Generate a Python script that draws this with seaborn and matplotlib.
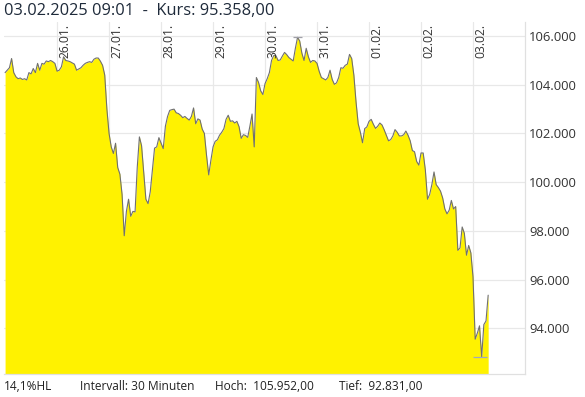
import numpy as np
import pandas as pd
import matplotlib
matplotlib.use("Agg")
import matplotlib.pyplot as plt
import matplotlib.transforms as mtransforms
import seaborn as sns

# ---- data (hourly closes, EUR) ----
start_time = "2025-01-25 00:00"
price = [
    104.5, 104.6, 104.7, 105.08, 104.5, 104.33, 104.25, 104.28, 104.22, 104.25,
    104.2, 104.5, 104.45, 104.67, 104.5, 104.88, 104.6, 104.88, 104.85, 104.98,
    104.95, 105.0, 104.95, 104.88, 104.56, 104.6, 104.74, 105.15, 105.0, 104.98,
    104.95, 104.9, 104.85, 104.6, 104.65, 104.7, 104.8, 104.88, 104.92, 104.95,
    104.92, 105.05, 105.1, 105.1, 104.97, 104.8, 104.4, 103.0, 102.0, 101.45,
    101.18, 101.6, 100.6, 100.33, 99.5, 97.8, 98.8, 99.3, 98.6, 98.8,
    98.78, 100.6, 101.86, 101.5, 100.4, 99.3, 99.12, 99.6, 100.5, 101.4,
    101.45, 101.83, 101.6, 101.38, 102.3, 102.7, 102.95, 102.98, 103.0, 102.85,
    102.82, 102.75, 102.65, 102.7, 102.62, 102.55, 102.7, 103.05, 102.4, 102.6,
    102.55, 102.18, 102.0, 101.1, 100.3, 100.9, 101.45, 101.68, 101.74, 101.93,
    102.05, 102.2, 102.58, 102.75, 102.5, 102.52, 102.43, 102.5, 102.28, 101.8,
    101.95, 101.92, 101.84, 102.3, 102.8, 101.45, 104.3, 104.1, 103.75, 103.6,
    104.05, 104.25, 104.5, 105.0, 105.2, 105.2, 105.0, 105.02, 105.18, 105.33,
    105.24, 105.12, 105.05, 104.98, 105.5, 105.952, 105.8, 105.3, 105.0, 105.5,
    105.15, 104.92, 105.0, 104.98, 104.88, 104.55, 104.3, 104.25, 104.2, 104.3,
    104.6, 104.22, 104.02, 104.08, 104.3, 104.7, 104.68, 104.8, 104.85, 105.25,
    105.08, 104.4, 103.3, 102.4, 102.05, 101.62, 102.2, 102.27, 102.5, 102.58,
    102.38, 102.21, 102.3, 102.43, 102.35, 102.15, 101.92, 101.7, 101.75, 101.9,
    102.16, 102.05, 101.9, 101.9, 101.95, 102.1, 101.93, 101.7, 101.3, 101.25,
    100.85, 100.7, 101.2, 101.2, 100.5, 99.3, 99.5, 99.9, 100.42, 99.9,
    99.78, 99.63, 99.35, 98.9, 98.7, 98.85, 99.25, 98.9, 99.0, 97.2,
    97.3, 98.16, 97.9, 97.0, 97.4, 97.1, 96.11, 93.55, 93.8, 94.1,
    92.831, 94.15, 94.3, 95.358,
]
price = [p * 1000 for p in price]
day_labels = ["26.01.", "27.01.", "28.01.", "29.01.", "30.01.", "31.01.",
              "01.02.", "02.02.", "03.02."]
y_ticks = [94000, 96000, 98000, 100000, 102000, 104000, 106000]
title_text = "03.02.2025 09:01  -  Kurs: 95.358,00"
footer = ["14,1%HL", "Intervall: 30 Minuten", "Hoch:  105.952,00", "Tief:  92.831,00"]

times = pd.date_range(start_time, periods=len(price), freq="h")
df = pd.DataFrame({"time": times, "price": price})
days = pd.date_range("2025-01-26", periods=len(day_labels), freq="D")

sns.set_style("white")
plt.rcParams["font.family"] = ["Open Sans", "DejaVu Sans"]

fig = plt.figure(figsize=(5.85, 3.97), dpi=100)
ax = fig.add_axes([4 / 585, 1 - 374 / 397, 521 / 585, 352 / 397])

ymin, ymax = 92120, 106580
ax.fill_between(df["time"], df["price"], ymin, color="#fff200", linewidth=0, zorder=2)
sns.lineplot(data=df, x="time", y="price", ax=ax, color="#707070", linewidth=0.8, zorder=3)

# high / low markers
imax = int(np.argmax(price)); imin = int(np.argmin(price))
td = pd.Timedelta(hours=2)
ax.hlines(max(price), times[imax] - td, times[imax] + td, color="#a0a0a8", lw=0.9, zorder=4)
ax.hlines(min(price), times[imin] - 2 * td, times[imin] + 1.3 * td, color="#a0a8c0", lw=0.9, zorder=4)

ax.set_xlim(pd.Timestamp("2025-01-24 23:30"), pd.Timestamp("2025-02-04 00:00"))
ax.set_ylim(ymin, ymax)
ax.set_xticks(days)
ax.set_xticklabels([])
ax.set_yticks(y_ticks)
ax.yaxis.tick_right()
ax.set_yticklabels([f"{v:,.0f}".replace(",", ".") for v in y_ticks], fontsize=9.4, color="#333333")
ax.tick_params(axis="both", length=0, pad=3)
ax.set_xlabel(""); ax.set_ylabel("")
ax.grid(True, color="#e8e8e8", linewidth=0.9, zorder=1)
ax.set_axisbelow(True)
for s in ["top", "left"]:
    ax.spines[s].set_visible(False)
for s in ["right", "bottom"]:
    ax.spines[s].set_color("#e0e0e0")
    ax.spines[s].set_linewidth(0.9)

off = mtransforms.offset_copy(ax.get_xaxis_transform(), fig=fig, x=1.5, y=-2, units="dots")
for d, lab in zip(days, day_labels):
    ax.text(d, 1.0, lab, transform=off, rotation=90, ha="left", va="top",
            fontsize=8.7, color="#333333", zorder=5)

fig.text(4 / 585, 1 - 11 / 397, title_text, fontsize=11.8, color="#1e2a3a", va="center", ha="left")
xs = [4, 80, 215, 339]
for x, t in zip(xs, footer):
    fig.text(x / 585, 1 - 386 / 397, t, fontsize=8.6, color="#222222", va="center", ha="left")

fig.savefig("out.png", dpi=100)
